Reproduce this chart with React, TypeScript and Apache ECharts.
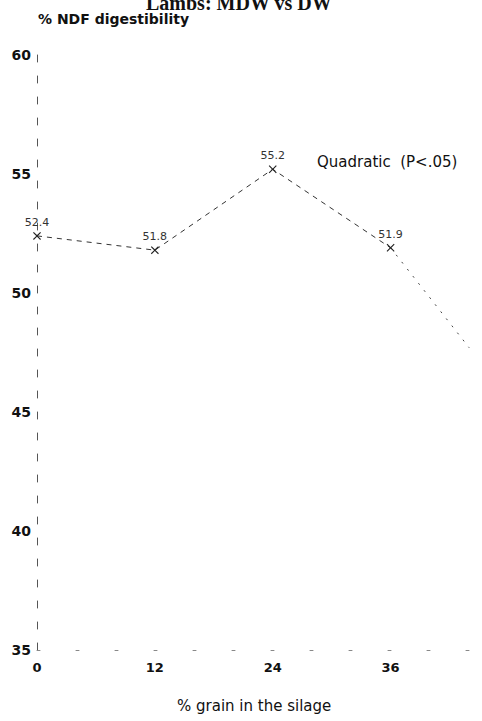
import React, { useEffect, useRef } from "react";
import * as echarts from "echarts";

const grainPct = [0, 12, 24, 36];
const ndfDigestibility = [52.4, 51.8, 55.2, 51.9];
const trendX = [36, 44];
const trendY = [51.9, 47.7];
const xTicks = [0, 12, 24, 36];
const yRange = [35, 60];
const xRange = [0, 45];
const chartTitle = "Lambs: MDW vs DW";
const yTitle = "% NDF digestibility";
const xTitle = "% grain in the silage";
const fitLabel = "Quadratic  (P<.05)";

const SANS = "'DejaVu Sans', 'Liberation Sans', Arial, sans-serif";
const SERIF = "'Liberation Serif', 'Times New Roman', serif";
const crossSymbol = "path://M0,1L1,0L5,4L9,0L10,1L6,5L10,9L9,10L5,6L1,10L0,9L4,5Z";

export default function App() {
  const ref = useRef<HTMLDivElement>(null);
  useEffect(() => {
    if (!ref.current) return;
    const chart = echarts.init(ref.current, null, { renderer: "svg" });
    chart.setOption({
      animation: false,
      backgroundColor: "#ffffff",
      grid: { left: 37, right: 0, top: 55, bottom: 71, containLabel: false },
      xAxis: {
        type: "value",
        min: xRange[0],
        max: xRange[1],
        interval: 12,
        axisLine: { show: true, onZero: false, lineStyle: { color: "#888", width: 1, type: [3, 36] } },
        axisTick: { show: false },
        splitLine: { show: false },
        axisLabel: {
          margin: 11,
          fontFamily: SANS,
          fontWeight: "bold",
          fontSize: 13,
          color: "#111",
          formatter: (v: number) => (xTicks.includes(v) ? String(v) : ""),
        },
      },
      yAxis: {
        type: "value",
        min: yRange[0],
        max: yRange[1],
        interval: 5,
        axisLine: { show: true, lineStyle: { color: "#555", width: 1, type: [7, 14] } },
        axisTick: { show: false },
        splitLine: { show: false },
        axisLabel: { margin: 6, fontFamily: SANS, fontWeight: "bold", fontSize: 14, color: "#111" },
      },
      series: [
        {
          type: "line",
          data: grainPct.map((x, i) => [x, ndfDigestibility[i]]),
          symbol: crossSymbol,
          symbolSize: 8,
          itemStyle: { color: "#222" },
          lineStyle: { color: "#333", width: 1, type: [5, 5] },
          label: {
            show: true,
            position: "top",
            distance: 4,
            fontFamily: SANS,
            fontSize: 11,
            color: "#333",
            formatter: (p: any) => String(p.value[1]),
          },
        },
        {
          type: "line",
          data: trendX.map((x, i) => [x, trendY[i]]),
          symbol: "none",
          lineStyle: { color: "#444", width: 1, type: [2, 7] },
        },
      ],
      graphic: [
        {
          type: "text",
          left: 146,
          top: -7,
          style: { text: chartTitle, font: `bold 20px ${SERIF}`, fill: "#111" },
        },
        {
          type: "text",
          left: 38,
          top: 12,
          style: { text: yTitle, font: `bold 14px ${SANS}`, fill: "#111" },
        },
        {
          type: "text",
          left: 317,
          top: 154,
          style: { text: fitLabel, font: `15px ${SANS}`, fill: "#111" },
        },
        {
          type: "text",
          left: 177,
          top: 698,
          style: { text: xTitle, font: `15px ${SANS}`, fill: "#111" },
        },
      ],
    });
    return () => chart.dispose();
  }, []);
  return (
    <div
      ref={ref}
      style={{ position: "fixed", left: 0, top: 0, width: 482, height: 721, background: "#fff" }}
    />
  );
}
